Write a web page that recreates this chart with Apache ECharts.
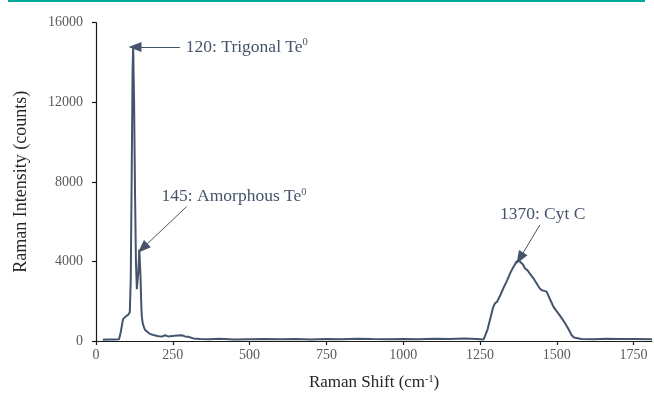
<!DOCTYPE html>
<html>
<head>
<meta charset="utf-8">
<script src="https://cdn.jsdelivr.net/npm/echarts@6/dist/echarts.min.js"></script>
<style>
  html, body { margin: 0; padding: 0; background: #fff; }
  #chart { width: 654px; height: 397px; }
</style>
</head>
<body>
<div id="chart"></div>
<script>
// Raman shift (cm-1) and intensity (counts)
const shift = [
  22, 40, 60, 75, 80, 84, 88, 92, 98, 105, 110, 113, 116, 119, 121, 124, 127, 130, 133, 135,
  138, 141, 143, 145, 147, 149, 152, 156, 160, 165, 175, 187, 200, 214, 225, 235, 241, 255,
  268, 279, 290, 300, 317, 340, 370, 400, 450, 500, 550, 600, 650, 700, 750, 800, 850, 900,
  950, 1000, 1050, 1100, 1150, 1200, 1240, 1262, 1266, 1275, 1285, 1292, 1299, 1306, 1316,
  1326, 1337, 1348, 1358, 1369, 1376, 1382, 1390, 1396, 1405, 1413, 1424, 1434, 1442, 1450,
  1459, 1467, 1478, 1489, 1497, 1505, 1516, 1527, 1538, 1548, 1556, 1562, 1580, 1620, 1660,
  1700, 1750, 1810
];
const intensity = [
  60, 80, 70, 90, 400, 750, 1100, 1200, 1250, 1320, 1450, 3000, 8000, 13500, 14800, 12000,
  7500, 4000, 2600, 2550, 3500, 4600, 4550, 3200, 2000, 1250, 900, 700, 550, 460, 360, 300,
  250, 220, 290, 230, 180, 260, 280, 290, 230, 210, 130, 100, 90, 110, 80, 90, 100, 85, 95,
  80, 100, 90, 110, 95, 85, 100, 90, 110, 95, 120, 100, 80, 90, 600, 1220, 1650, 1900, 1980,
  2300, 2650, 3000, 3400, 3700, 3990, 4050, 4020, 3850, 3660, 3550, 3370, 3150, 2900, 2700,
  2560, 2520, 2480, 2100, 1730, 1550, 1390, 1150, 890, 600, 300, 180, 130, 100, 90, 110, 95,
  100, 90
];
const xTicks = [0, 250, 500, 750, 1000, 1250, 1500, 1750];

// peak call-outs: text, arrow start and arrow tip in data units
const notes = [
  { name: "120: Trigonal Te", from: [273, 14776], to: [127, 14776] },
  { name: "145: Amorphous Te", from: [295, 6757], to: [152, 4664] },
  { name: "1370: Cyt C", from: [1445, 5836], to: [1380, 4160] }
];

const serif = "'Liberation Serif', 'Times New Roman', serif";
const ink = "#44546A";

const myChart = echarts.init(document.getElementById("chart"));

const option = {
  animation: false,
  backgroundColor: "#fff",
  grid: { left: 96, right: 2, top: 22.7, bottom: 56 },
  xAxis: {
    type: "value",
    min: 0,
    max: 1810,
    interval: 250,
    name: "Raman Shift (cm{sup|-1})",
    nameLocation: "middle",
    nameGap: 33,
    nameTextStyle: {
      fontFamily: serif, fontSize: 17, color: "#262626",
      rich: { sup: { fontFamily: serif, fontSize: 10, color: "#262626", verticalAlign: "top", padding: [0, 0, 8, 0] } }
    },
    axisLine: { lineStyle: { color: "#1a1a1a", width: 1.2 } },
    axisTick: { show: true, length: 4, customValues: xTicks, lineStyle: { color: "#1a1a1a", width: 1.2 } },
    axisLabel: {
      customValues: xTicks, margin: 7, fontFamily: serif, fontSize: 14, color: "#595959",
      formatter: (v) => String(v)
    },
    splitLine: { show: false }
  },
  yAxis: {
    type: "value",
    min: 0,
    max: 16000,
    interval: 4000,
    name: "Raman Intensity (counts)",
    nameLocation: "middle",
    nameGap: 66,
    nameTextStyle: { fontFamily: serif, fontSize: 18, color: "#262626" },
    axisLine: { show: true, lineStyle: { color: "#1a1a1a", width: 1.2 } },
    axisTick: { show: true, length: 4, lineStyle: { color: "#1a1a1a", width: 1.2 } },
    axisLabel: {
      margin: 13, fontFamily: serif, fontSize: 14, color: "#595959",
      formatter: (v) => String(v)
    },
    splitLine: { show: false }
  },
  series: [
    {
      type: "line",
      data: shift.map((x, i) => [x, intensity[i]]),
      showSymbol: false,
      lineStyle: { color: ink, width: 2 },
      markLine: {
        silent: true,
        symbol: ["none", "triangle"],
        symbolSize: [10, 13],
        lineStyle: { color: ink, width: 1, type: "solid" },
        label: { show: false },
        data: notes.map((n) => [{ coord: n.from }, { coord: n.to }])
      }
    }
  ],
  graphic: [
    {
      type: "line",
      shape: { x1: 8, y1: 1, x2: 645, y2: 1 },
      style: { stroke: "#00A99D", lineWidth: 2 }
    }
  ]
};
myChart.setOption(option);

// text of the call-outs, placed next to the arrow tails
const labelPos = [
  { ref: 0, dx: 6, dy: 0 },
  { ref: 1, dx: -25, dy: -10 },
  { ref: 2, dx: -40, dy: -10 }
];
const texts = labelPos.map((p, i) => {
  const pt = myChart.convertToPixel({ seriesIndex: 0 }, notes[p.ref].from);
  const sup = i < 2 ? "{s|0}" : "";
  return {
    type: "text",
    x: pt[0] + p.dx,
    y: pt[1] + p.dy,
    style: {
      text: "{t|" + notes[p.ref].name + "}" + sup,
      align: "left",
      verticalAlign: "middle",
      rich: {
        t: { fontFamily: serif, fontSize: 17.5, fill: ink },
        s: { fontFamily: serif, fontSize: 10.5, fill: ink, verticalAlign: "top", padding: [0, 0, 9, 0] }
      }
    }
  };
});
myChart.setOption({ graphic: option.graphic.concat(texts) });
</script>
</body>
</html>
